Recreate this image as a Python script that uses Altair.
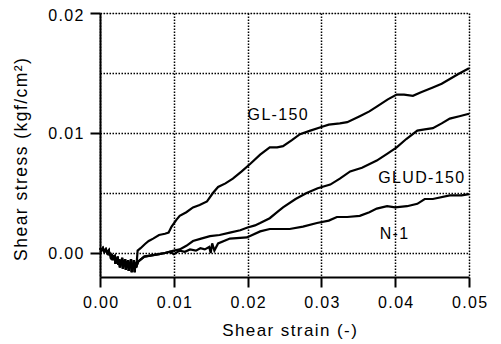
import altair as alt
import pandas as pd

# shared initial noisy segment (strain, stress)
common_x = [0.0000, 0.0002, 0.0004, 0.0006, 0.0008, 0.0010, 0.0012, 0.0013, 0.0014, 0.0015,
            0.0016, 0.0017, 0.0018, 0.0019, 0.0020, 0.0021, 0.0022, 0.0023, 0.0024, 0.0025,
            0.0026, 0.0027, 0.0028, 0.0029, 0.0030, 0.0031, 0.0032, 0.0033, 0.0034, 0.0035,
            0.0036, 0.0037, 0.0038, 0.0039, 0.0040, 0.0041, 0.0042, 0.0043, 0.0044, 0.0045,
            0.0046, 0.0047, 0.0048, 0.0049]
common_y = [0.0004, 0.0002, 0.0004, 0.0001, 0.0003, 0.0000, 0.0002, -0.0002, 0.0000, -0.0005,
            -0.0001, -0.0006, -0.0002, -0.0004, -0.0003, -0.0009, -0.0004, -0.0008, -0.0003, -0.0010,
            -0.0005, -0.0012, -0.0006, -0.0009, -0.0004, -0.0013, -0.0006, -0.0011, -0.0005, -0.0014,
            -0.0007, -0.0012, -0.0006, -0.0015, -0.0008, -0.0012, -0.0005, -0.0016, -0.0009, -0.0013,
            -0.0006, -0.0016, -0.0008, -0.0012]

gl_x = [0.0050, 0.0051, 0.0055, 0.0061, 0.0066, 0.0072, 0.0080, 0.0088, 0.0093, 0.0097,
        0.0104, 0.0108, 0.0117, 0.0126, 0.0135, 0.0145, 0.0153, 0.0160, 0.0170, 0.0180,
        0.0192, 0.0203, 0.0217, 0.0230, 0.0240, 0.0248, 0.0260, 0.0271, 0.0285, 0.0300,
        0.0310, 0.0325, 0.0335, 0.0352, 0.0365, 0.0375, 0.0390, 0.0402, 0.0412, 0.0424,
        0.0435, 0.0451, 0.0463, 0.0474, 0.0485, 0.0500]
gl_y = [-0.0006, 0.0002, 0.0004, 0.00075, 0.0010, 0.0012, 0.0015, 0.0016, 0.0017, 0.0022,
        0.0028, 0.0031, 0.0034, 0.0038, 0.0040, 0.0043, 0.0050, 0.0055, 0.0058, 0.0062,
        0.0068, 0.0074, 0.0082, 0.0088, 0.0088, 0.0089, 0.0094, 0.0099, 0.0102, 0.0105,
        0.0107, 0.0108, 0.0109, 0.0114, 0.0118, 0.0122, 0.0128, 0.0132, 0.0132, 0.0131,
        0.0134, 0.0138, 0.0141, 0.0145, 0.0149, 0.0154]

glud_x = [0.0050, 0.0052, 0.0060, 0.0070, 0.0080, 0.0088, 0.0100, 0.0108, 0.0117, 0.0126,
          0.0137, 0.0149, 0.0162, 0.0176, 0.0190, 0.0199, 0.0210, 0.0217, 0.0230, 0.0240,
          0.0248, 0.0265, 0.0280, 0.0295, 0.0312, 0.0325, 0.0339, 0.0355, 0.0375, 0.0390,
          0.0402, 0.0415, 0.0430, 0.0440, 0.0451, 0.0463, 0.0474, 0.0487, 0.0500]
glud_y = [-0.0010, -0.0007, -0.0003, -0.0002, -0.0001, 0.0000, 0.0002, 0.0003, 0.0006, 0.0010,
          0.0012, 0.0014, 0.0015, 0.0017, 0.0019, 0.0021, 0.0023, 0.0025, 0.0029, 0.0034,
          0.0038, 0.0045, 0.0050, 0.0054, 0.0057, 0.0062, 0.0068, 0.0071, 0.0077, 0.0083,
          0.0088, 0.0095, 0.0102, 0.0103, 0.0104, 0.0108, 0.0112, 0.0114, 0.0116]

n1_x = [0.0050, 0.0052, 0.0060, 0.0070, 0.0080, 0.0088, 0.0095, 0.0100, 0.0108, 0.0115,
        0.0122, 0.0130, 0.0136, 0.0142, 0.0148, 0.0150, 0.0152, 0.0155, 0.0160, 0.0176,
        0.0199, 0.0217, 0.0230, 0.0257, 0.0275, 0.0294, 0.0310, 0.0321, 0.0335, 0.0352,
        0.0365, 0.0375, 0.0389, 0.0400, 0.0416, 0.0430, 0.0440, 0.0451, 0.0474, 0.0490,
        0.0500]
n1_y = [-0.0010, -0.0007, -0.0003, -0.0002, -0.0001, 0.0000, 0.0001, -0.0001, 0.0002, 0.0001,
        0.0003, 0.0002, 0.0004, 0.0003, 0.0005, 0.0000, 0.0008, 0.0002, 0.0008, 0.0012,
        0.0013, 0.0018, 0.0020, 0.0020, 0.0022, 0.0025, 0.0027, 0.0030, 0.0030, 0.0031,
        0.0034, 0.0037, 0.0039, 0.0038, 0.0039, 0.0041, 0.0045, 0.0045, 0.0048, 0.0048,
        0.0049]

label_names = ["GL-150", "GLUD-150", "N-1"]
label_x = [0.0200, 0.0377, 0.0379]
label_y = [0.0115, 0.00625, 0.0016]

grid_values = [0.000, 0.005, 0.010, 0.015, 0.020, 0.025, 0.030, 0.035, 0.040, 0.045, 0.050]
ygrid_values = [0.000, 0.005, 0.010, 0.015, 0.020]

HS = "\u200a"


def spaced(s):
    return HS.join(list(s))


rows = []
for name, xs_, ys_ in [("GL-150", gl_x, gl_y), ("GLUD-150", glud_x, glud_y), ("N-1", n1_x, n1_y)]:
    for i, (x, y) in enumerate(zip(common_x + xs_, common_y + ys_)):
        rows.append({"series": name, "strain": x, "stress": y, "order": i})
df = pd.DataFrame(rows)

lab = pd.DataFrame({"label": [spaced(s) for s in label_names], "strain": label_x, "stress": label_y})

FONT = "Liberation Sans"
major = "round(datum.value*200) % 2 == 0"
lab_expr = f"{major} ? join(split(datum.label, ''), '{HS}') : ''"

common_axis = dict(
    labelExpr=lab_expr, labelOverlap=False, labelFlush=False, labelFont=FONT, labelFontSize=16,
    labelColor="black",
    grid=True, gridColor="black", gridDash=[1.5, 1.5], gridWidth=1.5, gridOpacity=1,
    domainColor="black", domainWidth=2, tickColor="black", tickWidth=2, tickSize=10,
    tickOpacity={"condition": {"test": major, "value": 1}, "value": 0},
    titleFont=FONT, titleFontWeight="normal", titleColor="black",
    titleAlign="center", titleBaseline="middle",
)

x_axis = alt.Axis(values=grid_values, format=".2f", labelPadding=7, titleFontSize=17,
                  title=spaced("Shear strain (-)"), titleX=189, titleY=53, **common_axis)
y_axis = alt.Axis(values=ygrid_values, format=".2f", labelPadding=7, titleFontSize=17.5,
                  labelOffset={"condition": {"test": "datum.value > 0.019", "value": 2}, "value": 0},
                  title=spaced("Shear stress (kgf/cm²)"), titleAngle=270, titleX=-79, titleY=146,
                  **common_axis)

xs = alt.Scale(domain=[0, 0.05], nice=False, zero=False)
ys = alt.Scale(domain=[-0.002, 0.02], nice=False, zero=False)

lines = alt.Chart(df).mark_line(color="black", strokeWidth=2.2).encode(
    x=alt.X("strain:Q", scale=xs, axis=x_axis),
    y=alt.Y("stress:Q", scale=ys, axis=y_axis),
    detail="series:N",
    order="order:Q",
)

texts = alt.Chart(lab).mark_text(align="left", baseline="middle", font=FONT, fontSize=16,
                                 color="black").encode(
    x=alt.X("strain:Q", scale=xs),
    y=alt.Y("stress:Q", scale=ys),
    text="label:N",
)

chart = alt.layer(lines, texts).properties(
    width=369, height=264,
    autosize=alt.AutoSizeParams(type="none"),
    padding={"left": 92, "top": 5, "right": 24, "bottom": 80},
).configure_view(
    stroke="black", strokeWidth=2, strokeDash=[2, 1]
).configure(background="white")

chart.save("out.html", embed_options={"renderer": "svg", "actions": False})
